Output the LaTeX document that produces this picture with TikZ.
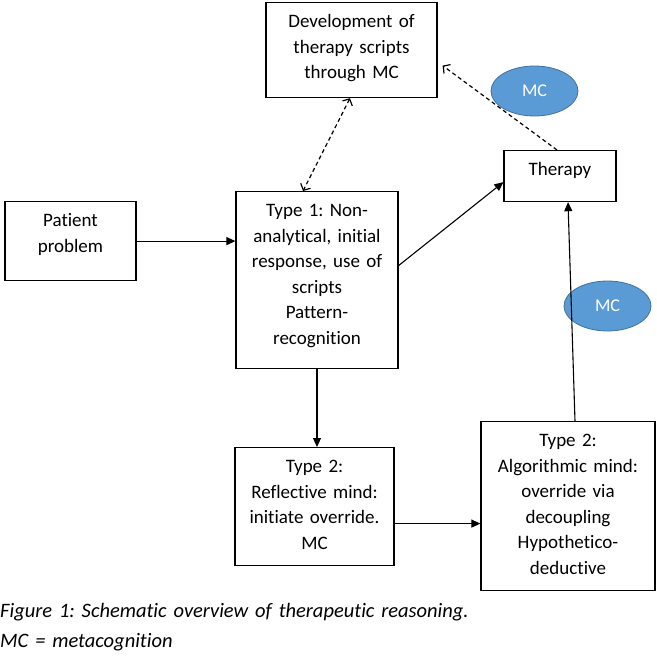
\documentclass[tikz,border=0pt]{standalone}
\usepackage{fontspec}
\setmainfont{Carlito}[Ligatures=NoCommon]
\usetikzlibrary{arrows.meta,shapes.geometric}

\definecolor{mcblue}{HTML}{5B9BD5}
\definecolor{mcedge}{HTML}{41719C}
\frenchspacing

\begin{document}
\begin{tikzpicture}[x=1pt,y=-1pt,
    box/.style={draw, line width=1.2pt, inner sep=0pt, align=center, anchor=north, text height=25pt,
      font=\fontsize{19}{25.5}\selectfont},
    mc/.style={ellipse, draw=mcedge, line width=0.8pt, fill=mcblue, text=white, minimum width=87pt, minimum height=50pt,
      font=\fontsize{18}{20}\selectfont},
    arr/.style={line width=1.1pt, -{Triangle[length=9pt,width=8pt]}},
    darr/.style={line width=1.2pt, dash pattern=on 4pt off 3pt, -{Straight Barb[length=5pt,width=11pt]}},
    ddarr/.style={line width=1.2pt, dash pattern=on 4pt off 3pt, {Straight Barb[length=5pt,width=11pt]}-{Straight Barb[length=5pt,width=11pt]}}]
  \useasboundingbox (0,0) rectangle (657,656);
  % boxes
  \node[box, text width=171pt, text depth=70pt] (dev) at (351.5,2) {Development of\\therapy scripts\\through MC};
  \node[box, text width=112pt, text depth=26pt] (therapy) at (560,150) {Therapy};
  \node[box, text width=131pt, text depth=54pt] (patient) at (70.5,201) {Patient\\problem};
  \node[box, text width=162pt, text depth=152pt] (type1) at (317,191) {Type 1: Non-\\analytical, initial\\response, use of\\scripts\\Pattern-\\recognition};
  \node[box, text width=159pt, text depth=93pt] (reflect) at (314.5,447) {Type 2:\\Reflective mind:\\initiate override.\\MC};
  \node[box, text width=174pt, text depth=144pt] (algo) at (568,421) {Type 2:\\Algorithmic mind:\\override via\\decoupling\\Hypothetico-\\deductive};
  \node[mc] (mctop) at (534.5,91) {MC};
  \node[mc] (mcside) at (607.5,306) {MC};
  % connectors
  \draw[arr] (patient.east) -- (patient.east -| type1.west);
  \draw[arr] ([yshift=14.5pt]type1.east) -- ([yshift=-6pt]therapy.west);
  \draw[arr] (type1.south) -- (type1.south |- reflect.north);
  \draw[arr] ([yshift=-17pt]reflect.east) -- ([yshift=-17pt]reflect.east -| algo.west);
  \draw[arr] ([xshift=7pt]algo.north) -- ([xshift=8pt]therapy.south);
  \draw[darr] ([xshift=-3pt]therapy.north) -- ([xshift=5pt,yshift=-15.5pt]dev.east);
  \draw[ddarr] ([xshift=-1.5pt]dev.south) -- ([xshift=-14pt]type1.north);
  % caption
  \node[anchor=base west, inner sep=0pt, text width=500pt, align=left, font=\fontsize{20.5}{30}\selectfont\itshape] (caption) at (0,617)
    {Figure 1: Schematic overview of therapeutic reasoning.\\MC = metacognition};
\end{tikzpicture}
\end{document}
